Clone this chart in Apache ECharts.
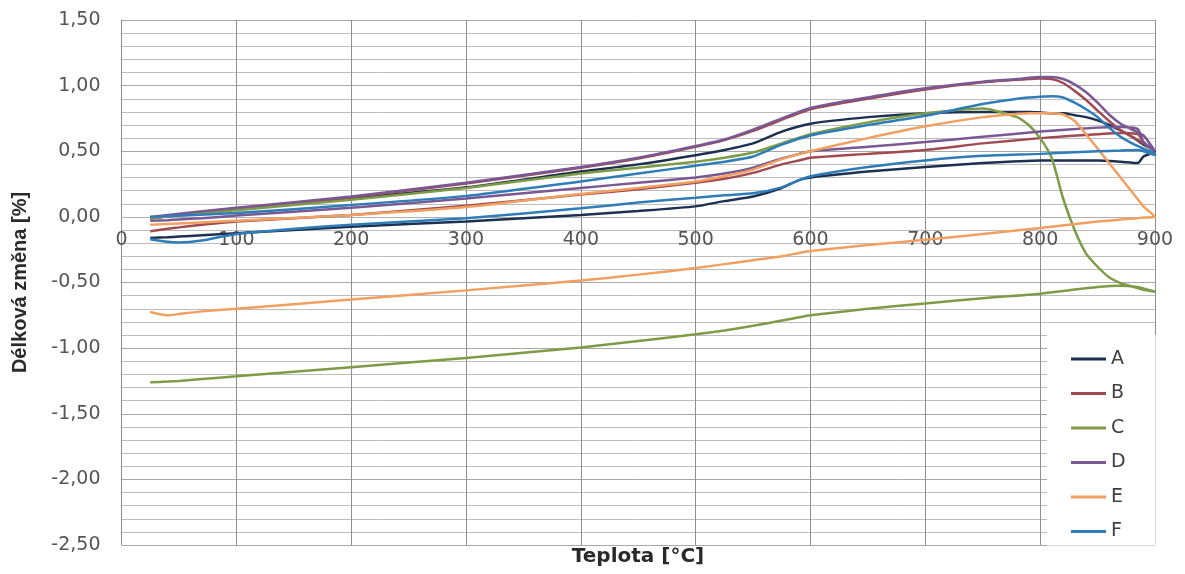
<!DOCTYPE html>
<html>
<head>
<meta charset="utf-8">
<title>Délková změna</title>
<script src="https://cdn.jsdelivr.net/npm/echarts@6/dist/echarts.min.js"></script>
<style>
  html, body { margin: 0; padding: 0; background: #ffffff; }
  #chart { width: 1185px; height: 574px; }
</style>
</head>
<body>
<div id="chart"></div>
<script>
// Temperatures [°C] of the heating branch and of the cooling branch
const heatT = [25, 100, 200, 300, 400, 450, 500, 525, 550, 575, 600, 650, 700, 750, 780, 790, 800, 810, 820, 830, 840, 850, 860, 870, 880, 890, 900];
const coolT = [900, 890, 885, 870, 850, 800, 750, 700, 650, 600, 590, 575, 550, 525, 500, 450, 400, 300, 200, 100, 70, 50, 40, 25];

// Length change [%] per sample, heating branch (aligned with heatT)
const aHeat = [-0.01, 0.06, 0.14, 0.225, 0.345, 0.40, 0.47, 0.51, 0.56, 0.65, 0.71, 0.76, 0.79, 0.80, 0.80, 0.80, 0.795, 0.79, 0.79, 0.775, 0.76, 0.735, 0.70, 0.66, 0.61, 0.55, 0.50];
const bHeat = [-0.01, 0.06, 0.15, 0.255, 0.375, 0.445, 0.535, 0.585, 0.655, 0.74, 0.82, 0.90, 0.97, 1.025, 1.045, 1.05, 1.055, 1.05, 1.02, 0.96, 0.89, 0.81, 0.73, 0.66, 0.61, 0.56, 0.50];
const cHeat = [-0.01, 0.05, 0.13, 0.22, 0.33, 0.375, 0.42, 0.45, 0.49, 0.56, 0.63, 0.72, 0.79, 0.825, 0.76, 0.70, 0.60, 0.45, 0.14, -0.10, -0.28, -0.38, -0.46, -0.505, -0.53, -0.555, -0.57];
const dHeat = [0.00, 0.07, 0.155, 0.26, 0.38, 0.45, 0.54, 0.59, 0.665, 0.75, 0.83, 0.91, 0.98, 1.03, 1.05, 1.06, 1.065, 1.065, 1.05, 1.01, 0.95, 0.87, 0.78, 0.71, 0.665, 0.62, 0.50];
const eHeat = [-0.06, -0.03, 0.015, 0.075, 0.175, 0.22, 0.27, 0.31, 0.36, 0.44, 0.50, 0.60, 0.69, 0.76, 0.785, 0.79, 0.79, 0.79, 0.78, 0.73, 0.63, 0.52, 0.41, 0.30, 0.19, 0.08, 0.00];
const fHeat = [0.00, 0.03, 0.09, 0.16, 0.27, 0.33, 0.39, 0.42, 0.46, 0.55, 0.62, 0.70, 0.77, 0.86, 0.90, 0.91, 0.915, 0.92, 0.91, 0.87, 0.82, 0.76, 0.68, 0.61, 0.56, 0.52, 0.48];

// Length change [%] per sample, cooling branch (aligned with coolT)
const aCool = [0.50, 0.46, 0.41, 0.42, 0.43, 0.43, 0.41, 0.38, 0.345, 0.30, 0.28, 0.22, 0.155, 0.12, 0.08, 0.045, 0.015, -0.035, -0.075, -0.125, -0.14, -0.15, -0.155, -0.16];
const bCool = [0.50, 0.57, 0.63, 0.64, 0.63, 0.60, 0.56, 0.51, 0.48, 0.45, 0.43, 0.40, 0.335, 0.29, 0.26, 0.21, 0.17, 0.085, 0.015, -0.035, -0.06, -0.08, -0.09, -0.11];
const cCool = [-0.57, -0.545, -0.535, -0.525, -0.535, -0.585, -0.62, -0.66, -0.70, -0.75, -0.765, -0.79, -0.83, -0.865, -0.895, -0.945, -0.995, -1.075, -1.145, -1.215, -1.235, -1.25, -1.255, -1.26];
const dCool = [0.50, 0.57, 0.67, 0.685, 0.68, 0.65, 0.61, 0.57, 0.535, 0.50, 0.48, 0.445, 0.375, 0.33, 0.30, 0.26, 0.22, 0.14, 0.07, 0.01, -0.01, -0.02, -0.025, -0.03];
const eCool = [0.00, -0.005, -0.01, -0.02, -0.035, -0.085, -0.13, -0.175, -0.215, -0.26, -0.275, -0.30, -0.33, -0.36, -0.39, -0.44, -0.485, -0.56, -0.63, -0.70, -0.72, -0.74, -0.75, -0.725];
const fCool = [0.47, 0.50, 0.51, 0.505, 0.50, 0.48, 0.465, 0.43, 0.38, 0.31, 0.28, 0.225, 0.18, 0.165, 0.145, 0.11, 0.065, -0.01, -0.06, -0.13, -0.18, -0.195, -0.19, -0.17];

const sampleNames = ['A', 'B', 'C', 'D', 'E', 'F'];
const sampleColors = ['#1d3050', '#a14a52', '#7e9c47', '#7a5894', '#f0a060', '#2e7cb8'];
const heatBranches = [aHeat, bHeat, cHeat, dHeat, eHeat, fHeat];
const coolBranches = [aCool, bCool, cCool, dCool, eCool, fCool];

// Axis ranges and tick steps
const xMin = 0, xMax = 900, xStep = 100;
const yMin = -2.5, yMax = 1.5, yStep = 0.5;

// One closed loop (heating up to 900 °C and back down) per sample
function loop(heat, cool) {
  const pts = heatT.map((t, i) => [t, heat[i]]);
  return pts.concat(coolT.map((t, i) => [t, cool[i]]));
}

// Plot area
const gridBox = { left: 121.5, right: 30, top: 20, bottom: 29 };
const chartH = 574;
const plotH = chartH - gridBox.top - gridBox.bottom;
// The temperature axis (with its labels) sits on the 0 % line
const xAxisLift = -plotH * (0 - yMin) / (yMax - yMin);

const tickFont = 'DejaVu Sans';
const chart = echarts.init(document.getElementById('chart'), null, { renderer: 'canvas' });

chart.setOption({
  animation: false,
  backgroundColor: '#ffffff',
  title: {
    text: 'Teplota [°C]',
    left: 638,
    top: 547,
    textAlign: 'center',
    padding: 0,
    textStyle: { fontFamily: tickFont, fontWeight: 'bold', fontSize: 20, color: '#2a2a2a' }
  },
  grid: Object.assign({ outerBoundsMode: 'none', containLabel: false }, gridBox),
  legend: {
    data: sampleNames,
    orient: 'vertical',
    left: 1047,
    top: 335,
    padding: [14, 30, 4, 24],
    backgroundColor: '#ffffff',
    icon: 'rect',
    itemWidth: 35,
    itemHeight: 3,
    itemGap: 14.5,
    textStyle: { fontFamily: tickFont, fontSize: 19, color: '#404040', lineHeight: 20 }
  },
  xAxis: {
    type: 'value',
    position: 'bottom',
    offset: xAxisLift,
    min: xMin,
    max: xMax,
    interval: xStep,
    axisLine: { show: true, onZero: false, lineStyle: { color: '#b0b0b0', width: 1 } },
    axisTick: { show: false },
    axisLabel: { fontFamily: tickFont, fontSize: 19, color: '#555555', margin: 14 },
    splitLine: { show: true, lineStyle: { color: '#8e8e8e', width: 1 } }
  },
  yAxis: {
    type: 'value',
    min: yMin,
    max: yMax,
    interval: yStep,
    name: 'Délková změna [%]',
    nameLocation: 'middle',
    nameGap: 91,
    nameTextStyle: { fontFamily: 'Liberation Sans', fontWeight: 'bold', fontSize: 20, color: '#2a2a2a' },
    axisLine: { show: false, onZero: false },
    axisTick: { show: false },
    axisLabel: {
      fontFamily: tickFont,
      fontSize: 19,
      color: '#555555',
      margin: 21,
      formatter: v => (Math.abs(v) < 1e-9 ? 0 : v).toFixed(2).replace('.', ',')
    },
    splitLine: { show: true, lineStyle: { color: '#a8a8a8', width: 1 } },
    minorTick: { show: false, splitNumber: 5 },
    minorSplitLine: { show: true, lineStyle: { color: '#bcbcbc', width: 1 } }
  },
  series: sampleNames.map((name, k) => ({
    name: name,
    type: 'line',
    showSymbol: false,
    smooth: 0.2,
    color: sampleColors[k],
    lineStyle: { width: 2.5, color: sampleColors[k] },
    data: loop(heatBranches[k], coolBranches[k])
  }))
});
</script>
</body>
</html>
